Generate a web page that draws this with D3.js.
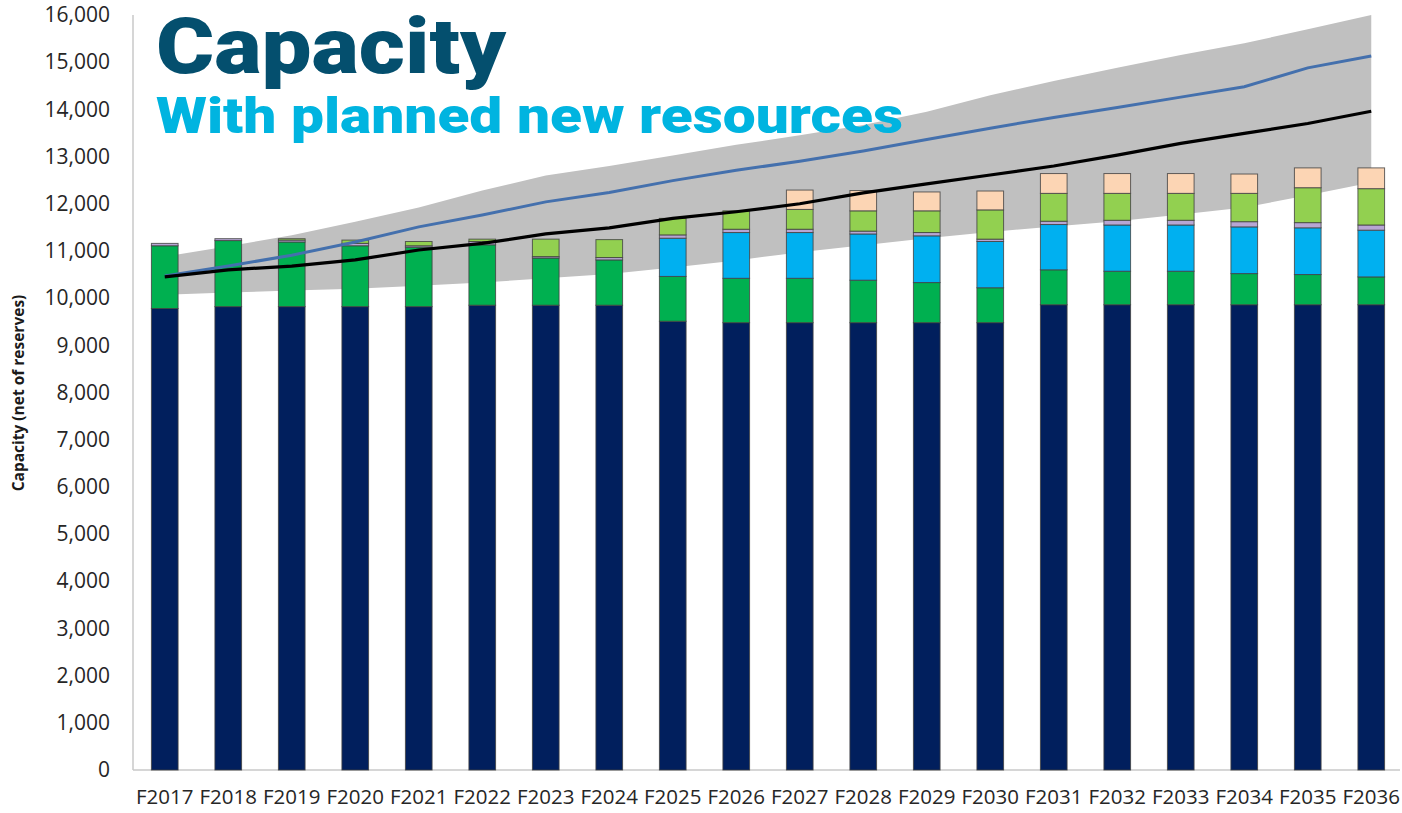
<!DOCTYPE html>
<html>
<head>
<meta charset="utf-8">
<script src="https://cdn.jsdelivr.net/npm/d3@7"></script>
<style>
  html, body { margin: 0; padding: 0; background: #ffffff; }
  svg { display: block; }
</style>
</head>
<body>
<svg id="chart" width="1402" height="813"></svg>
<script>
const categories = ["F2017","F2018","F2019","F2020","F2021","F2022","F2023","F2024","F2025","F2026",
                    "F2027","F2028","F2029","F2030","F2031","F2032","F2033","F2034","F2035","F2036"];

// stacked series, bottom to top
const existing   = [9780, 9820, 9820, 9820, 9820, 9850, 9850, 9850, 9510, 9480, 9480, 9480, 9480, 9480, 9860, 9860, 9860, 9860, 9860, 9860];
const hydro      = [1330, 1400, 1370, 1290, 1260, 1280, 1000,  960,  950,  940,  940,  900,  850,  740,  740,  710,  710,  660,  640,  590];
const wind       = [   0,    0,    0,    0,    0,    0,    0,    0,  810,  970,  970,  980,  990,  980,  960,  980,  980,  990,  990,  990];
const other      = [  50,   40,   40,   50,   30,   70,   30,   50,   70,   70,   70,   60,   70,   50,   70,  100,  100,  110,  110,  110];
const efficiency = [   0,    0,   30,   70,   90,   50,  370,  380,  350,  390,  420,  430,  460,  620,  590,  570,  570,  600,  740,  770];
const market     = [   0,    0,    0,    0,    0,    0,    0,    0,    0,    0,  410,  430,  400,  400,  420,  420,  420,  410,  420,  440];

// lines
const loadHigh   = [10470, 10680, 10910, 11190, 11510, 11760, 12040, 12240, 12490, 12710, 12900, 13120, 13360, 13600, 13830, 14040, 14260, 14480, 14880, 15130];
const loadBase   = [10450, 10600, 10680, 10810, 11020, 11160, 11360, 11490, 11690, 11830, 12000, 12230, 12420, 12610, 12800, 13030, 13280, 13490, 13700, 13960];

// uncertainty band
const bandLow    = [10070, 10120, 10160, 10200, 10260, 10330, 10420, 10510, 10650, 10800, 10970, 11120, 11270, 11400, 11520, 11630, 11770, 11920, 12180, 12450];
const bandHigh   = [10880, 11100, 11330, 11620, 11920, 12280, 12600, 12800, 13020, 13250, 13450, 13670, 13950, 14300, 14600, 14880, 15150, 15400, 15700, 16000];

const yTicks = [0,1000,2000,3000,4000,5000,6000,7000,8000,9000,10000,11000,12000,13000,14000,15000,16000];

const seriesKeys   = ["existing","hydro","wind","other","efficiency","market"];
const seriesArrays = [existing, hydro, wind, other, efficiency, market];
const seriesColors = ["#011f5d", "#00b050", "#00b0f0", "#b7a6d4", "#92d050", "#fcd5b4"];

const rows = categories.map((c, i) => {
  const r = { cat: c };
  seriesKeys.forEach((k, j) => r[k] = seriesArrays[j][i]);
  return r;
});

const svg = d3.select("#chart");
const plotLeft = 133, plotRight = 1403, plotTop = 15, plotBottom = 770;

const x = d3.scaleBand().domain(categories).range([plotLeft, plotRight]).paddingInner(0.58).paddingOuter(0.29);
const y = d3.scaleLinear().domain([0, 16000]).range([plotBottom, plotTop]);
const cx = c => x(c) + x.bandwidth() / 2;

// band
const bandData = categories.map((c, i) => ({ c, lo: bandLow[i], hi: bandHigh[i] }));
svg.append("path")
  .datum(bandData)
  .attr("d", d3.area().x(d => cx(d.c)).y0(d => y(d.lo)).y1(d => y(d.hi)))
  .attr("fill", "#c0c0c0");

// axes lines
svg.append("line").attr("x1", plotLeft).attr("x2", plotLeft).attr("y1", plotTop).attr("y2", plotBottom)
  .attr("stroke", "#c8c8c8").attr("stroke-width", 1.5);
svg.append("line").attr("x1", plotLeft).attr("x2", 1400).attr("y1", plotBottom).attr("y2", plotBottom)
  .attr("stroke", "#c8c8c8").attr("stroke-width", 1.5);

// stacked bars
const stack = d3.stack().keys(seriesKeys)(rows);
svg.append("g").selectAll("g")
  .data(stack)
  .join("g")
  .attr("fill", (d, i) => seriesColors[i])
  .selectAll("rect")
  .data(d => d.filter(p => p[1] - p[0] > 0))
  .join("rect")
  .attr("x", d => x(d.data.cat))
  .attr("width", x.bandwidth())
  .attr("y", d => y(d[1]))
  .attr("height", d => y(d[0]) - y(d[1]))
  .attr("stroke", "#404040")
  .attr("stroke-opacity", 0.8)
  .attr("stroke-width", 1);

// lines
const lineGen = d3.line().x((d, i) => cx(categories[i])).y(d => y(d));
svg.append("path").datum(loadHigh).attr("d", lineGen)
  .attr("fill", "none").attr("stroke", "#4470ad").attr("stroke-width", 3);
svg.append("path").datum(loadBase).attr("d", lineGen)
  .attr("fill", "none").attr("stroke", "#000000").attr("stroke-width", 3.2);

// y tick labels
const yAxis = d3.axisLeft(y).tickValues(yTicks).tickSize(0).tickPadding(0).tickFormat(d3.format(","));
const gy = svg.append("g").attr("transform", `translate(110,0)`).call(yAxis);
gy.select(".domain").remove();
gy.selectAll("text")
  .attr("font-family", "'Open Sans', sans-serif")
  .attr("font-size", 21)
  .attr("fill", "#262626");

// x tick labels
const xAxis = d3.axisBottom(x).tickSize(0).tickPadding(0);
const gx = svg.append("g").attr("transform", `translate(0,789)`).call(xAxis);
gx.select(".domain").remove();
gx.selectAll("text")
  .attr("font-family", "'Open Sans', sans-serif")
  .attr("font-size", 20.5)
  .attr("fill", "#262626");

// y axis title
svg.append("text")
  .attr("transform", "translate(24,393) rotate(-90)")
  .attr("text-anchor", "middle")
  .attr("font-family", "'Open Sans', sans-serif")
  .attr("font-weight", 700)
  .attr("font-size", 15.5)
  .attr("fill", "#1a1a1a")
  .text("Capacity (net of reserves)");

// titles
svg.append("text")
  .attr("x", 156).attr("y", 73)
  .attr("font-family", "Roboto, 'DejaVu Sans', sans-serif")
  .attr("font-weight", 900)
  .attr("font-size", 77)
  .attr("fill", "#044f6e")
  .attr("textLength", 350)
  .attr("lengthAdjust", "spacingAndGlyphs")
  .text("Capacity");

svg.append("text")
  .attr("x", 156).attr("y", 133)
  .attr("font-family", "Roboto, 'DejaVu Sans', sans-serif")
  .attr("font-weight", 900)
  .attr("font-size", 50)
  .attr("fill", "#00b4e0")
  .attr("textLength", 747)
  .attr("lengthAdjust", "spacingAndGlyphs")
  .text("With planned new resources");
</script>
</body>
</html>
